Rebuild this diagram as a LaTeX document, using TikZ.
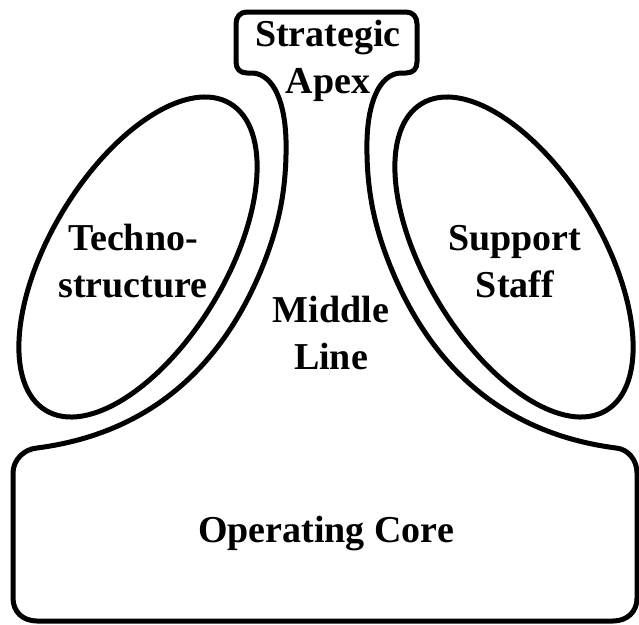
\documentclass[tikz,border=0pt]{standalone}
\usepackage{fontspec}
\setmainfont{Liberation Serif}
\usetikzlibrary{shapes.geometric}
\tikzset{
  outline/.style={line width=5pt, line join=round},
  lobe/.style={draw, ellipse, line width=5pt, inner sep=0pt,
    minimum width=358pt, minimum height=176pt},
  label/.style={font=\bfseries\fontsize{38}{47}\selectfont, align=center,
    anchor=base, inner sep=0pt}
}
\begin{document}
\begin{tikzpicture}[x=1pt, y=-1pt]
  \useasboundingbox (0,0) rectangle (639,624);
  \draw[outline] (236,62) .. controls (236,69) and (240,73) .. (247,73) -- (253,73)
    .. controls (275,75) and (285,105) .. (286,140)
    .. controls (287,190) and (278,225) .. (267,255)
    .. controls (230,355) and (160,432) .. (37,448)
    .. controls (24,449) and (13,460) .. (13,473)
    -- (13,598) .. controls (13,612) and (23,621) .. (37,621)
    -- (613,621) .. controls (627,621) and (637,612) .. (637,598)
    -- (637,473) .. controls (637,460) and (628,449) .. (616,448)
    .. controls (493,432) and (423,355) .. (386,255)
    .. controls (375,225) and (366,190) .. (367,140)
    .. controls (368,105) and (378,75) .. (400,73)
    -- (406,73) .. controls (413,73) and (417,69) .. (417,62)
    -- (417,24) .. controls (417,17) and (413,12) .. (406,12)
    -- (247,12) .. controls (240,12) and (236,17) .. (236,24) -- cycle;
  \node[lobe, rotate=59] (techno) at (138,257) {};
  \node[lobe, rotate=-59] (support) at (514,257) {};
  \node[label] (apex) at (328,93) {Strategic\\Apex};
  \node[label] (technotext) at (133,297) {Techno-\\structure};
  \node[label] (supporttext) at (515,297) {Support\\Staff};
  \node[label] (middle) at (331,369) {Middle\\Line};
  \node[label] (core) at (326,542) {Operating Core};
\end{tikzpicture}
\end{document}
